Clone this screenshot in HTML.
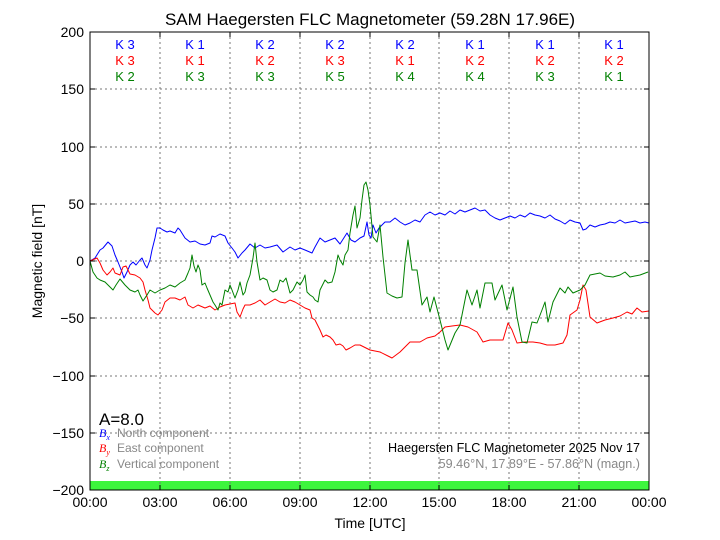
<!DOCTYPE html>
<html><head><meta charset="utf-8"><style>
body{margin:0;background:#fff;}
svg{font-family:"Liberation Sans",sans-serif;display:block}
</style></head><body>
<svg width="720" height="540" viewBox="0 0 720 540" xmlns="http://www.w3.org/2000/svg">
<rect width="720" height="540" fill="#fff"/>
<text x="370" y="25" font-size="17" text-anchor="middle">SAM Haegersten FLC Magnetometer (59.28N 17.96E)</text>
<rect x="90" y="481" width="559" height="9" fill="#3df53d"/>
<g stroke="#777" stroke-dasharray="2,3" stroke-width="1">
<line x1="160" y1="32" x2="160" y2="490"/><line x1="230" y1="32" x2="230" y2="490"/><line x1="300" y1="32" x2="300" y2="490"/><line x1="370" y1="32" x2="370" y2="490"/><line x1="439" y1="32" x2="439" y2="490"/><line x1="509" y1="32" x2="509" y2="490"/><line x1="579" y1="32" x2="579" y2="490"/>
<line x1="90" y1="89" x2="649" y2="89"/><line x1="90" y1="147" x2="649" y2="147"/><line x1="90" y1="204" x2="649" y2="204"/><line x1="90" y1="261" x2="649" y2="261"/><line x1="90" y1="318" x2="649" y2="318"/><line x1="90" y1="376" x2="649" y2="376"/><line x1="90" y1="433" x2="649" y2="433"/>
</g>
<g font-size="13" text-anchor="middle">
<g fill="#0000ff"><text x="125" y="49">K 3</text><text x="195" y="49">K 1</text><text x="265" y="49">K 2</text><text x="335" y="49">K 2</text><text x="405" y="49">K 2</text><text x="475" y="49">K 1</text><text x="545" y="49">K 1</text><text x="614" y="49">K 1</text></g>
<g fill="#ff0000"><text x="125" y="65">K 3</text><text x="195" y="65">K 1</text><text x="265" y="65">K 2</text><text x="335" y="65">K 3</text><text x="405" y="65">K 1</text><text x="475" y="65">K 2</text><text x="545" y="65">K 2</text><text x="614" y="65">K 2</text></g>
<g fill="#008000"><text x="125" y="81">K 2</text><text x="195" y="81">K 3</text><text x="265" y="81">K 3</text><text x="335" y="81">K 5</text><text x="405" y="81">K 4</text><text x="475" y="81">K 4</text><text x="545" y="81">K 3</text><text x="614" y="81">K 1</text></g>
</g>
<g fill="none" stroke-width="1" stroke-linejoin="round">
<polyline stroke="#0000ff" points="90,261 95,258 100,250 103,248 108,242 112,246 115,255 118,262 122,272 124,278 127,272 130,265 133,262 136,265 140,260 142,258 145,265 147,268 150,260 152,250 155,238 157,228 160,228 163,230 167,232 170,231 175,233 178,228 180,230 185,238 190,242 195,241 200,244 205,245 210,243 212,236 215,237 220,234 225,236 228,243 232,248 235,252 238,258 242,253 245,250 250,244 255,248 260,245 265,248 270,247 277,245 283,252 290,247 295,250 300,248 305,250 312,253 315,247 320,238 325,242 330,240 335,238 340,244 347,233 351,240 355,242 360,238 364,236 367,222 369,235 371,238 373,225 376,233 379,228 382,225 385,222 390,222 395,218 400,222 405,225 410,223 415,220 420,222 425,215 430,212 435,215 440,213 445,215 450,211 455,214 460,210 465,212 470,210 475,208 480,211 485,210 490,215 495,218 500,220 505,218 510,216 515,218 520,215 525,217 530,213 535,215 540,216 545,218 550,215 555,219 560,221 565,224 570,220 575,222 580,223 583,230 586,229 590,225 595,227 600,225 605,224 610,222 615,223 620,220 625,223 630,222 635,221 640,223 645,222 649,223"/>
<polyline stroke="#ff0000" points="90,261 97,258 100,263 103,270 107,275 110,272 113,268 115,273 120,275 123,267 126,266 130,274 135,275 140,278 143,282 145,290 148,300 150,308 155,313 158,315 162,310 165,302 170,298 175,298 180,300 185,297 188,305 193,308 198,305 205,308 210,306 215,310 220,307 225,305 235,303 237,312 240,317 243,309 245,305 250,305 255,303 260,300 265,305 270,302 275,299 280,302 285,303 290,300 295,302 300,305 305,308 310,310 312,318 315,320 320,330 323,337 326,335 330,337 333,340 336,345 340,344 343,346 346,350 350,348 355,345 360,345 370,350 380,352 388,356 392,358 400,352 410,342 420,342 427,338 435,336 440,332 445,327 452,326 460,325 468,327 477,332 483,342 490,340 503,340 508,323 512,330 517,343 525,342 533,342 540,343 547,345 555,345 563,343 567,335 570,315 577,310 580,300 583,285 586,290 590,317 597,323 605,320 613,318 620,316 627,312 632,314 637,308 642,312 649,311"/>
<polyline stroke="#008000" points="90,261 93,272 97,278 100,280 105,282 110,287 113,290 116,285 120,279 125,285 130,290 135,292 138,290 140,295 143,301 147,295 150,290 155,293 160,290 165,288 170,285 175,287 180,283 185,280 188,273 190,268 192,255 194,266 196,272 198,265 200,270 202,285 205,283 207,288 210,295 213,302 215,305 218,310 220,303 222,305 225,290 228,292 230,285 232,290 235,298 238,290 240,282 243,295 245,292 247,283 250,275 253,258 255,243 257,262 260,280 263,278 267,280 270,290 273,292 277,290 280,280 283,282 286,278 290,293 293,290 297,282 300,285 303,280 305,275 307,292 310,295 313,297 315,300 318,302 320,290 325,280 328,283 332,282 335,272 338,255 340,260 343,265 345,255 348,250 350,233 353,215 355,206 357,228 360,218 362,200 364,185 366,182 368,190 370,205 373,237 377,242 380,225 383,257 387,293 392,296 397,298 402,297 405,263 408,240 412,270 417,270 422,305 427,297 430,312 434,297 440,320 445,340 448,350 455,333 460,325 467,290 472,305 477,290 480,308 485,283 492,283 495,300 502,285 507,310 513,287 517,317 522,342 527,343 532,322 537,323 542,310 545,302 548,322 553,302 560,288 565,293 568,287 573,293 580,290 585,285 590,275 600,273 605,276 613,277 620,275 625,272 630,277 640,275 648,272"/>
</g>
<rect x="90" y="32" width="559" height="458" fill="none" stroke="#000" stroke-width="1"/>
<g stroke="#000">
<line x1="160" y1="490" x2="160" y2="485"/><line x1="230" y1="490" x2="230" y2="485"/><line x1="300" y1="490" x2="300" y2="485"/><line x1="370" y1="490" x2="370" y2="485"/><line x1="439" y1="490" x2="439" y2="485"/><line x1="509" y1="490" x2="509" y2="485"/><line x1="579" y1="490" x2="579" y2="485"/>
<line x1="160" y1="32" x2="160" y2="37"/><line x1="230" y1="32" x2="230" y2="37"/><line x1="300" y1="32" x2="300" y2="37"/><line x1="370" y1="32" x2="370" y2="37"/><line x1="439" y1="32" x2="439" y2="37"/><line x1="509" y1="32" x2="509" y2="37"/><line x1="579" y1="32" x2="579" y2="37"/>
<line x1="90" y1="89" x2="95" y2="89"/><line x1="90" y1="147" x2="95" y2="147"/><line x1="90" y1="204" x2="95" y2="204"/><line x1="90" y1="261" x2="95" y2="261"/><line x1="90" y1="318" x2="95" y2="318"/><line x1="90" y1="376" x2="95" y2="376"/><line x1="90" y1="433" x2="95" y2="433"/>
<line x1="649" y1="89" x2="644" y2="89"/><line x1="649" y1="147" x2="644" y2="147"/><line x1="649" y1="204" x2="644" y2="204"/><line x1="649" y1="261" x2="644" y2="261"/><line x1="649" y1="318" x2="644" y2="318"/><line x1="649" y1="376" x2="644" y2="376"/><line x1="649" y1="433" x2="644" y2="433"/>
</g>
<g font-size="14" text-anchor="end">
<text x="84" y="37">200</text><text x="84" y="94">150</text><text x="84" y="152">100</text><text x="84" y="209">50</text><text x="84" y="266">0</text><text x="84" y="323">−50</text><text x="84" y="381">−100</text><text x="84" y="438">−150</text><text x="84" y="495">−200</text>
</g>
<g font-size="14" text-anchor="middle">
<text x="90" y="507">00:00</text><text x="160" y="507">03:00</text><text x="230" y="507">06:00</text><text x="300" y="507">09:00</text><text x="370" y="507">12:00</text><text x="439" y="507">15:00</text><text x="509" y="507">18:00</text><text x="579" y="507">21:00</text><text x="649" y="507">00:00</text>
</g>
<text x="370" y="528" font-size="14" text-anchor="middle">Time [UTC]</text>
<text transform="translate(42,261) rotate(-90)" font-size="14" text-anchor="middle">Magnetic field [nT]</text>
<text x="99" y="425" font-size="17">A=8.0</text>
<g font-size="12">
<text x="99" y="437" fill="#0000ff" font-family="Liberation Serif" font-style="italic">B<tspan font-size="8" dy="3">x</tspan></text>
<text x="117" y="437" fill="#888">North component</text>
<text x="99" y="452" fill="#ff0000" font-family="Liberation Serif" font-style="italic">B<tspan font-size="8" dy="3">y</tspan></text>
<text x="117" y="452" fill="#888">East component</text>
<text x="99" y="468" fill="#008000" font-family="Liberation Serif" font-style="italic">B<tspan font-size="8" dy="3">z</tspan></text>
<text x="117" y="468" fill="#888">Vertical component</text>
<text x="640" y="452" text-anchor="end" fill="#000" font-size="12.6">Haegersten FLC Magnetometer 2025 Nov 17</text>
<text x="640" y="468" text-anchor="end" fill="#888" font-size="12.6">59.46°N, 17.89°E - 57.86°N (magn.)</text>
</g>
</svg>
</body></html>
